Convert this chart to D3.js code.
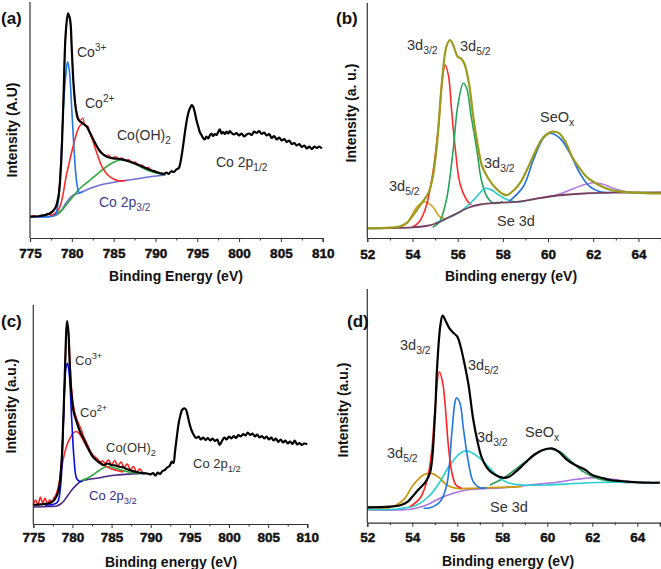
<!DOCTYPE html>
<html><head><meta charset="utf-8">
<script src="https://cdn.jsdelivr.net/npm/d3@7"></script>
<style>
html,body{margin:0;padding:0;background:#fff;}
svg{display:block;font-family:"Liberation Sans",Arial,sans-serif;}
</style></head>
<body><svg id="c" width="661" height="569"></svg>
<script>
// ---------- Tick labels ----------
const coTicks = [775,780,785,790,795,800,805,810];
const coMinor = [777.5,782.5,787.5,792.5,797.5,802.5,807.5];
const seTicks = [52,54,56,58,60,62,64];
const seMinor = [53,55,57,59,61,63,65];

// ---------- Panel (a): Co 2p ----------
const aRaw = [[775,21],[775.5,22.3],[776,21],[776.4,23],[776.8,22],[777.1,25],[777.4,23.5],[777.7,27],[778.0,29],[778.3,37],[778.6,62],[778.9,118],[779.1,170],[779.3,205],[779.55,223],[779.8,216],[780.0,187],[780.2,156],[780.5,130],[780.8,120],[781.0,117.5],[781.3,120],[781.6,112.5],[781.9,112],[782.2,104],[782.5,99.5],[782.8,95],[783.1,90.5],[783.4,87.5],[783.8,83.5],[784.1,82.5],[784.4,83],[784.8,80],[785.2,81.5],[785.6,79.5],[786.0,80],[786.4,77.5],[786.8,78.5],[787.2,75.5],[787.6,76],[788.0,72.5],[788.4,73],[788.8,70],[789.2,70.5],[789.6,67],[790.0,67],[790.4,64.5],[790.8,65],[791.2,64]];
const aTotal = [[775,21.3],[776.2,22],[777.4,24.7],[778.0,29.7],[778.4,41.3],[778.7,71],[779.0,138],[779.27,204.7],[779.55,224.7],[779.8,218],[780.0,188],[780.2,154.7],[780.5,128],[780.8,118],[781.3,114.7],[781.8,111.3],[782.2,104.7],[782.8,94.7],[783.4,86.3],[784.2,81.3],[785.0,79.7],[786.0,78.7],[787.0,76.3],[788.2,72.3],[789.4,68],[790.6,64.7],[791.0,64],[791.3,65.5],[791.6,64.2],[791.9,66.8],[792.2,66],[792.5,68.5],[792.8,70],[793.0,76],[793.2,86],[793.4,98],[793.6,110],[793.8,120],[794.0,127],[794.2,131],[794.35,133],[794.5,131.5],[794.7,126],[794.9,118],[795.1,112],[795.3,106],[795.5,103],[795.7,100],[795.9,98.5],[796.1,101.5],[796.3,99.5],[796.5,102.5],[796.7,104.5],[796.9,102],[797.1,104],[797.3,103],[797.5,106],[797.7,108.7],[797.9,104.5],[798.1,106],[798.3,104],[798.5,106.5],[798.7,104.5],[798.9,107],[799.1,105],[799.4,103.5],[799.7,105],[800.0,102.5],[800.3,104.5],[800.6,101.5],[800.9,103.5],[801.2,104.5],[801.5,103],[801.8,106.5],[802.1,105],[802.4,107],[802.7,104],[803.0,105.5],[803.3,102.5],[803.6,104],[803.9,100],[804.2,102],[804.5,98.5],[804.8,100.5],[805.1,97.5],[805.4,99],[805.7,96],[806.0,97.5],[806.3,94],[806.6,95],[806.9,92.5],[807.2,94],[807.5,91],[807.8,92.5],[808.1,89.5],[808.4,91.5],[808.7,89],[809.0,91.5],[809.3,90],[809.6,91.5],[809.9,89.5]];
const aCo3 = [[775,21.3],[777.5,21.5],[778.0,23],[778.4,38],[778.7,78],[779.0,131.3],[779.3,164.7],[779.5,176.3],[779.7,168],[780.0,128],[780.3,84.7],[780.6,54.7],[780.9,45.3],[781.3,46.5]];
const aCo2 = [[777.4,22],[778.4,28],[779.4,64.7],[780.2,93],[780.8,109.7],[781.3,114.7],[781.8,111.3],[782.4,99.7],[783.0,84.7],[783.6,71.3],[784.3,63],[785.0,59],[785.6,57.3],[786.5,57.5]];
const aCoOH = [[777.4,21.8],[778.6,26.3],[779.8,38],[781.0,49.7],[782.2,58],[783.4,66.3],[784.6,74],[785.8,78],[786.6,77.3],[787.8,73],[789.0,68],[790.2,64.7],[791.2,63]];
const aBg = [[775,21.3],[778.2,23],[778.8,28],[779.4,36.3],[780.2,43],[781.0,45.3],[782.2,49.7],[783.4,53],[785.4,56.3],[787.4,58.7],[789.4,61.3],[791.2,63]];

// ---------- Panel (b): Se 3d ----------
const bTotal = [[52,9.7],[53.0,10.3],[53.5,12],[53.8,16.3],[54.09,24.7],[54.4,34.7],[54.7,44.7],[54.9,61.3],[55.1,98],[55.3,154.7],[55.5,191.3],[55.66,198],[55.8,193],[56.0,181.3],[56.14,179.7],[56.29,174.7],[56.5,154.7],[56.69,121.3],[56.9,91.3],[57.09,71.3],[57.4,58],[57.69,49.7],[58.0,44],[58.19,43],[58.5,48],[58.8,56.3],[59.1,69.7],[59.4,84.7],[59.7,98],[59.9,103],[60.2,106.3],[60.5,104.7],[60.8,94.7],[61.1,79.7],[61.4,69.7],[61.7,61.3],[62.0,56.3],[62.4,51.3],[62.8,48],[63.2,46.3],[63.6,45.7],[64.0,45.3],[64.5,44.7],[65.0,44.7]];
const bBg = [[52,9.7],[54.0,10.7],[54.6,12],[55.1,15],[55.5,19.5],[56.0,25],[56.5,30.5],[57.0,33.5],[57.8,35.3],[58.7,36.3],[59.4,39],[60.4,42.5],[61.6,44.5],[62.9,45.3],[65,45.5]];
const bRed = [[54.0,10.7],[54.3,16.3],[54.6,31.3],[54.9,64.7],[55.15,111.3],[55.35,164.7],[55.45,173],[55.6,161.3],[55.73,128],[55.9,88],[56.1,54.7],[56.4,38],[56.6,33]];
const bGreen = [[54.9,10.7],[55.2,16.3],[55.5,38],[55.8,88],[56.0,131.3],[56.25,154.7],[56.4,149.7],[56.6,121.3],[56.85,88],[57.05,58],[57.3,41.3],[57.6,34.7],[58.0,36.3]];
const bCyan = [[55.0,14.7],[55.5,19.5],[56.1,26],[56.7,38],[57.0,45.5],[57.21,49.7],[57.5,48],[57.75,44],[58.17,38.5],[58.6,36.2],[59.0,37]];
const bOrange = [[53.5,11.5],[53.75,14.5],[53.9,19.7],[54.2,31.3],[54.55,36.3],[54.9,31.3],[55.2,21.3],[55.5,19]];
const bBlue = [[58.3,37],[58.9,51.3],[59.35,78],[59.79,99.7],[60.08,104.7],[60.53,99.7],[60.97,84.7],[61.41,64.7],[61.85,51.3],[62.3,46.3],[62.9,45.5]];
const bPurple = [[59.49,39.7],[60.38,43],[60.97,48],[61.56,53],[62.0,55.3],[62.44,53.7],[62.88,49.7],[63.47,46.3],[64.2,45.3]];

// ---------- Panel (c): Co 2p ----------
const cRaw = [[775,19],[775.3,24],[775.6,19],[775.9,27],[776.2,21],[776.5,26],[776.8,20],[777.1,24],[777.4,22],[777.7,27],[778.0,30],[778.3,40],[778.6,62],[778.9,115],[779.1,166],[779.3,201],[779.5,190],[779.7,161],[779.9,134],[780.2,115],[780.5,106],[780.8,100],[781.1,95],[781.4,88],[781.7,83],[782.0,78],[782.3,73],[782.6,69],[783.0,65],[783.4,61],[783.8,63],[784.2,61],[784.6,64],[785.0,59],[785.4,63.5],[785.8,58],[786.2,62],[786.6,56.5],[787.0,60],[787.4,54.5],[787.8,57.5],[788.2,52],[788.6,55],[789.0,50.5]];
const cTotal = [[775,19],[775.98,19.7],[777.0,20.7],[777.68,24],[778.19,32.3],[778.58,59],[778.87,112.3],[779.09,165.7],[779.3,203],[779.47,194],[779.64,162.3],[779.85,132.3],[780.15,112.3],[780.53,102.3],[780.96,92.3],[781.5,84],[782.0,75.7],[782.6,67.3],[783.3,62.3],[783.7,60],[784.0,59],[784.5,60.5],[785.0,59],[785.5,58.5],[786.0,57.3],[786.5,56.5],[787.0,54.7],[787.5,53.5],[788.0,52.3],[788.5,51.5],[789.0,50.7],[789.5,50.5],[790.0,49.7],[790.3,51],[790.6,48.5],[790.9,51.3],[791.2,50],[791.5,53],[791.8,54],[792.1,56.5],[792.4,58],[792.7,62.3],[792.9,61],[793.1,72.3],[793.3,85],[793.6,102.3],[793.8,109],[794.0,114],[794.3,115.7],[794.5,114.5],[794.7,109],[795.0,99],[795.2,94],[795.5,89],[795.8,86],[796.1,87.5],[796.4,84.5],[796.7,86.5],[797.0,84],[797.3,86],[797.6,83.5],[797.9,85.5],[798.2,83],[798.5,84.5],[798.8,79],[799.1,83],[799.4,86.5],[799.7,84.5],[800.0,87.5],[800.3,85.5],[800.6,88],[800.9,86],[801.2,89],[801.5,87.5],[801.8,90],[802.1,88.5],[802.4,91.5],[802.7,89],[803.0,90.5],[803.3,87.5],[803.6,89.5],[803.9,86.5],[804.2,88],[804.5,85.5],[804.8,87.5],[805.1,84.5],[805.4,86.5],[805.7,83.5],[806.0,85.5],[806.3,82],[806.6,84.5],[806.9,81.5],[807.2,83.5],[807.5,80.5],[807.8,82.5],[808.1,80],[808.4,83.5],[808.7,79.5],[809.0,81],[809.3,79],[809.6,80.5],[810.0,79.7]];
const cCo3 = [[776.5,18.8],[777.5,19.5],[778.1,22],[778.5,39],[778.83,99],[779.17,155.7],[779.38,160.7],[779.6,149],[779.9,105.7],[780.2,65.7],[780.53,45.7],[780.96,42.5],[781.3,43]];
const cCo2 = [[777.0,19.5],[777.6,24],[778.2,37],[778.8,64],[779.3,79],[779.7,86],[780.1,91],[780.5,92.5],[780.9,90],[781.3,85],[781.8,77.3],[782.4,70],[783.1,65.7],[783.8,60],[784.4,57.3],[785.0,55],[785.7,53.5],[786.5,52]];
const cCoOH = [[781.0,43],[781.8,45.5],[782.6,49],[783.4,53.5],[784.0,56.5],[784.6,57.5],[785.2,56.5],[786.0,54.5],[786.9,52.5],[787.8,51.3],[788.7,50.8],[789.5,50.7]];
const cBg = [[775,17],[777,17.5],[778.0,18],[778.4,19.5],[778.9,23],[779.3,27.3],[780.1,35.7],[781.0,42.3],[782.0,44.5],[783.1,45.7],[784.3,47.5],[785.65,49],[787.5,50],[789.5,50.7]];

// ---------- Panel (d): Se 3d ----------
const dTotal = [[52,15.4],[53.0,16],[53.5,17.7],[53.8,21],[54.0,26],[54.3,33.7],[54.6,41],[54.8,51],[55.0,104.4],[55.1,154.4],[55.25,197.7],[55.35,207],[55.5,201],[55.65,194.4],[55.85,189.4],[56.0,186],[56.15,176],[56.3,161],[56.5,137.7],[56.7,104.4],[56.9,81],[57.1,64.4],[57.4,52.7],[57.7,47.7],[58.0,45],[58.3,46],[58.6,51],[59.0,59.4],[59.4,67.7],[59.8,72.7],[60.2,74.4],[60.5,71],[60.8,64.4],[61.1,59.4],[61.4,56],[61.7,52.7],[62.0,47.7],[62.4,45],[62.8,42.7],[63.2,41.7],[63.6,41],[64.0,40.4],[64.5,40],[65,40]];
const dRed = [[53.9,16],[54.34,24.4],[54.64,41],[54.86,71],[55.0,111],[55.2,151],[55.35,140],[55.47,115],[55.6,77.7],[55.75,51],[55.94,37.7],[56.19,34.4]];
const dBlue = [[54.5,14.5],[54.79,15],[55.23,21],[55.53,37.7],[55.75,87.7],[55.9,121],[55.97,125],[56.12,119.4],[56.27,94.4],[56.49,61],[56.71,41],[57.0,35],[57.3,35]];
const dCyan = [[52,13.4],[53.3,13.7],[54.19,17.7],[54.79,27.7],[55.23,41],[55.67,57.7],[56.12,69.4],[56.34,71.7],[56.56,71],[57.0,64.4],[57.45,54.4],[57.9,44.4],[58.34,39.4],[58.93,37.7],[59.97,37.7],[61.45,39.4],[62.93,40.4],[65,40]];
const dOrange = [[52,13.4],[53.0,15],[53.6,22.7],[54.04,37.7],[54.49,47.7],[54.86,49.4],[55.23,44.4],[55.53,37.7],[55.97,34.4],[56.71,34.4],[57.45,35],[58.49,35.7],[58.86,36]];
const dPurple = [[52,13],[53.9,13.4],[54.64,17.7],[55.23,24.4],[55.82,29.4],[56.41,32.7],[57.0,33.7],[58.04,35],[59.23,37.7],[60.41,40.4],[61.3,43.4],[62.04,45],[62.93,43.4],[63.67,41],[64.41,40],[65,39.4]];
const dGreen = [[57.45,37.7],[58.04,44.4],[58.64,54.4],[59.23,64.4],[59.82,72.7],[60.12,73.7],[60.56,71],[61.0,62.7],[61.6,51],[62.19,44.4],[62.93,41],[63.67,40]];

// ---------- Texts ----------
const coAnnotA = [{t:"Co",sup:"3+"},{t:"Co",sup:"2+"},{t:"Co(OH)",sub:"2"},{t:"Co 2p",sub:"1/2"},{t:"Co 2p",sub:"3/2"}];
const seAnnot = [{t:"3d",sub:"3/2"},{t:"3d",sub:"5/2"},{t:"SeO",sub:"x"},{t:"3d",sub:"3/2"},{t:"3d",sub:"5/2"},{t:"Se 3d"}];

// ---------- Layout / drawing ----------
const svg = d3.select("#c");
const panels = [
 {letter:"(a)", lx:1, ly:24, xd:[775,810], x0:30, x1:322.7, ax:238, top:2, ymax:236, ticks:coTicks, minor:coMinor, pad:6,
  ylab:"Intensity (A.U)", ylx:12.5, yly:130, xlab:"Binding Energy (eV)", xlx:176, xly:281,
  series:[[aRaw,"#ff1a1a",1.2],[aBg,"#6f6fd6",1.6],[aCoOH,"#2faa3c",1.6],[aCo2,"#ff2a2a",1.6],[aCo3,"#2277e6",1.6],[aTotal,"#000",2.2]],
  fs:14, labels:coAnnotA, pos:[[77,57],[85,108],[117,140],[216,167],[99,207]], colors:["#333","#333","#333","#333","#3d3d8c"]},
 {letter:"(b)", lx:336, ly:24, xd:[52,65], x0:367.3, x1:661, ax:238, top:3, ymax:235, ticks:seTicks, minor:seMinor, pad:7,
  ylab:"Intensity (a. u.)", ylx:351, yly:113, xlab:"Binding energy (eV)", xlx:511, xly:281,
  series:[[bOrange,"#d4a020",1.6],[bRed,"#ff2b2b",1.6],[bGreen,"#26a35a",1.6],[bCyan,"#22cccc",1.6],[bPurple,"#b27be0",1.6],[bBlue,"#1f6fe0",1.6],[bBg,"#74405e",1.8],[bTotal,"#9b9b1e",2.2]],
  fs:14.5, labels:seAnnot, pos:[[407,50],[460,51],[540,122],[484,168],[389,191],[497,226]], colors:["#333","#333","#333","#333","#333","#333"]},
 {letter:"(c)", lx:1, ly:327, xd:[775,810], x0:33.3, x1:307.3, ax:524, top:305, ymax:219, ticks:coTicks, minor:coMinor, pad:4,
  ylab:"Intensity (a.u.)", ylx:11, yly:406, xlab:"Binding energy (eV)", xlx:171, xly:567,
  series:[[cRaw,"#ff1a1a",1.5],[cBg,"#4b2380",1.6],[cCoOH,"#2faa3c",1.6],[cCo2,"#ff2a2a",1.6],[cCo3,"#0a0ae6",1.6],[cTotal,"#000",2.2]],
  fs:13, labels:coAnnotA, pos:[[75,365],[80,417],[106,452],[193,468],[89,500]], colors:["#333","#333","#333","#333","#3d2a8a"]},
 {letter:"(d)", lx:347, ly:327, xd:[52,65], x0:367.3, x1:659.8, ax:522.7, top:289, ymax:233.7, ticks:seTicks, minor:seMinor, pad:6,
  ylab:"Intensity (a.u.)", ylx:343, yly:410, xlab:"Binding energy (eV)", xlx:508, xly:566,
  series:[[dPurple,"#a874e0",1.6],[dGreen,"#2a9d5a",1.6],[dOrange,"#cc9a10",1.8],[dCyan,"#26d0d0",1.6],[dBlue,"#1f77e0",1.6],[dRed,"#ff2424",1.6],[dTotal,"#000",2.2]],
  fs:14.5, labels:seAnnot, pos:[[400,350],[468,370],[525,437],[477,442],[387,458],[490,512]], colors:["#333","#333","#333","#333","#333","#333"]}
];

panels.forEach(p => {
  const x = d3.scaleLinear().domain(p.xd).range([p.x0, p.x1]);
  const y = d3.scaleLinear().domain([0, p.ymax]).range([p.ax, p.top]);
  const g = svg.append("g");
  const line = d3.line().x(d => x(d[0])).y(d => y(d[1])).curve(d3.curveCatmullRom.alpha(0.5));
  p.series.forEach(s => {
    g.append("path").attr("d", line(s[0])).attr("fill","none").attr("stroke", s[1])
      .attr("stroke-width", s[2]).attr("stroke-linejoin","round");
  });
  g.append("line").attr("x1",p.x0).attr("x2",p.x0).attr("y1",p.top).attr("y2",p.ax).attr("stroke","#333").attr("stroke-width",1.2);
  const ax = g.append("g").attr("transform",`translate(0,${p.ax})`)
    .call(d3.axisBottom(x).tickValues(p.ticks).tickSize(4).tickPadding(p.pad).tickFormat(d3.format("d")));
  ax.attr("font-family","Liberation Sans, Arial, sans-serif").attr("font-size",13.5);
  ax.select(".domain").attr("stroke","#333").attr("stroke-width",1.2);
  ax.selectAll(".tick line").attr("stroke","#333");
  ax.selectAll("text").style("font-size","13.5px").style("font-weight","700").attr("fill","#111")
    .attr("stroke","#111").attr("stroke-width",0.45);
  const mn = g.append("g").attr("transform",`translate(0,${p.ax})`)
    .call(d3.axisBottom(x).tickValues(p.minor).tickSize(2.5).tickFormat(""));
  mn.select(".domain").remove();
  mn.selectAll(".tick line").attr("stroke","#333");
  g.append("text").attr("x",p.xlx).attr("y",p.xly).attr("text-anchor","middle")
    .attr("font-size",14).attr("font-weight","bold").attr("fill","#111").text(p.xlab);
  g.append("text").attr("transform",`translate(${p.ylx},${p.yly}) rotate(-90)`).attr("text-anchor","middle")
    .attr("dy","0.35em").attr("font-size",14).attr("font-weight","bold").attr("fill","#111").text(p.ylab);
  g.append("text").attr("x",p.lx).attr("y",p.ly).attr("font-size",17).attr("font-weight","bold").attr("fill","#111").text(p.letter);
  p.labels.forEach((L,i) => {
    const t = g.append("text").attr("x",p.pos[i][0]).attr("y",p.pos[i][1]).attr("font-size",p.fs).attr("fill",p.colors[i]);
    t.append("tspan").text(L.t);
    if (L.sub) t.append("tspan").attr("dy",4).attr("font-size",p.fs*0.72).text(L.sub);
    if (L.sup) t.append("tspan").attr("dy",-6).attr("font-size",p.fs*0.72).text(L.sup);
  });
});
</script></body></html>
